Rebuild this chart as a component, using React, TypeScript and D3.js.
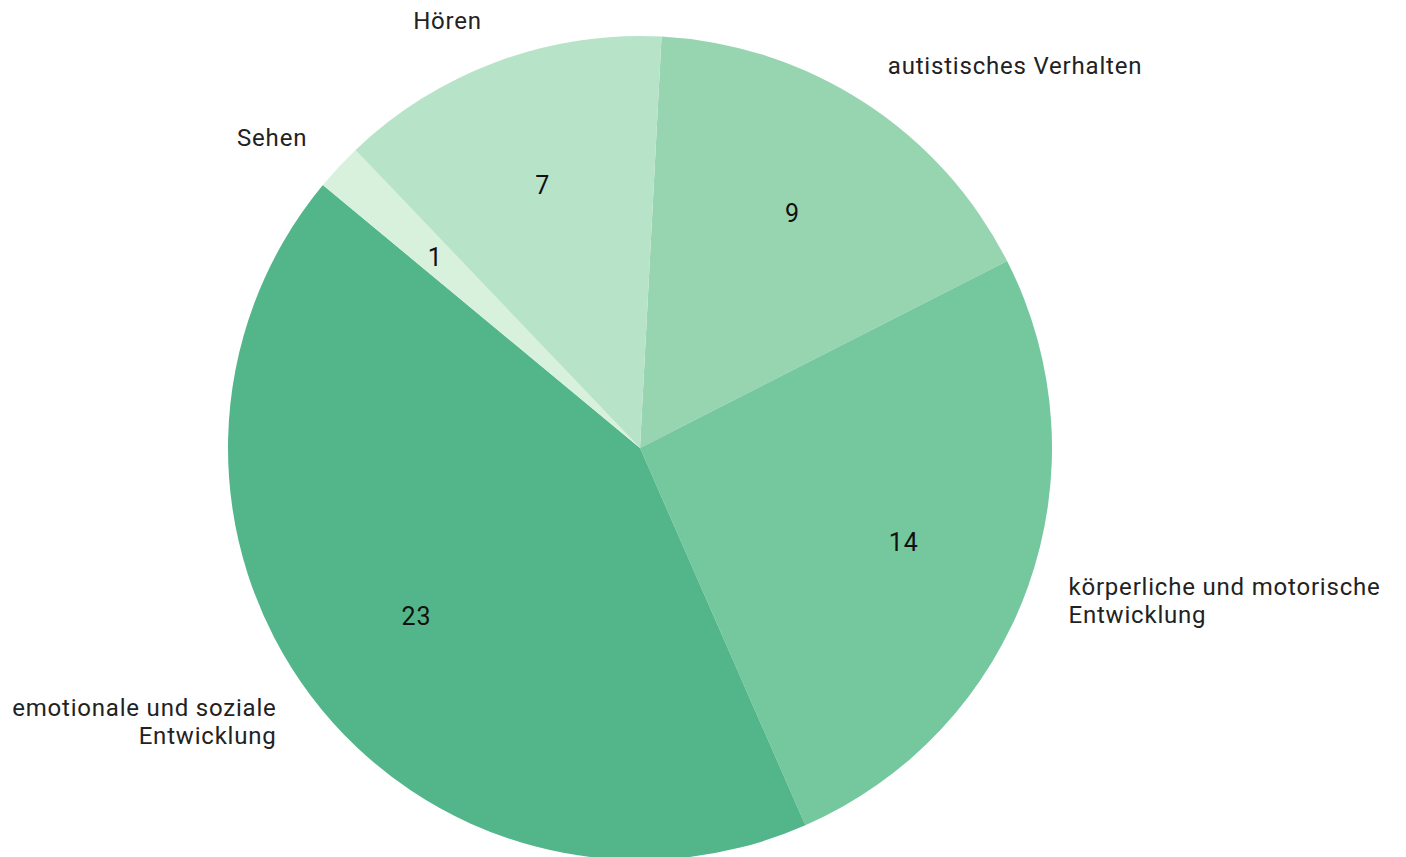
import * as d3 from "d3";

const categories = [
  "autistisches Verhalten",
  "körperliche und motorische Entwicklung",
  "emotionale und soziale Entwicklung",
  "Sehen",
  "Hören",
];
const values = [9, 14, 23, 1, 7];
const labelLines = [
  ["autistisches Verhalten"],
  ["körperliche und motorische", "Entwicklung"],
  ["emotionale und soziale", "Entwicklung"],
  ["Sehen"],
  ["Hören"],
];
const colors = ["#97d4b0", "#75c79e", "#52b68a", "#d8f1dc", "#b7e3c8"];

const width = 1406;
const height = 857;
const cx = 640;
const cy = 448;
const radius = 412;
const startDeg = 3;

export default function App() {
  const pie = d3
    .pie<number>()
    .sort(null)
    .startAngle((startDeg * Math.PI) / 180)
    .endAngle(((startDeg + 360) * Math.PI) / 180);
  const arcs = pie(values);
  const arc = d3.arc<d3.PieArcDatum<number>>().innerRadius(0).outerRadius(radius);
  const valueArc = d3.arc<d3.PieArcDatum<number>>().innerRadius(280).outerRadius(280);
  const outerArc = d3.arc<d3.PieArcDatum<number>>().innerRadius(455).outerRadius(455);

  const font = "Roboto, 'Open Sans', sans-serif";
  const lh = 28;

  return (
    <svg
      width={width}
      height={height}
      style={{ position: "absolute", left: 0, top: 0, background: "#fff" }}
    >
      <g transform={`translate(${cx},${cy})`}>
        {arcs.map((a, i) => (
          <path key={categories[i]} d={arc(a) ?? ""} fill={colors[i]} />
        ))}
        {arcs.map((a, i) => {
          const [x, y] = valueArc.centroid(a);
          return (
            <text
              key={"v" + i}
              x={x}
              y={y}
              textAnchor="middle"
              dominantBaseline="central"
              fontFamily={font}
              fontSize={25}
              letterSpacing={0.8}
              fill="#111"
            >
              {values[i]}
            </text>
          );
        })}
        {arcs.map((a, i) => {
          const [x, y] = outerArc.centroid(a);
          const mid = (a.startAngle + a.endAngle) / 2;
          const anchor = Math.sin(mid) >= 0 ? "start" : "end";
          const lines = labelLines[i];
          const y0 = y - ((lines.length - 1) * lh) / 2;
          return (
            <text
              key={"l" + i}
              textAnchor={anchor}
              fontFamily={font}
              fontSize={24}
              letterSpacing={0.8}
              fill="#222"
            >
              {lines.map((t, j) => (
                <tspan key={j} x={x} y={y0 + j * lh} dominantBaseline="central">
                  {t}
                </tspan>
              ))}
            </text>
          );
        })}
      </g>
    </svg>
  );
}
